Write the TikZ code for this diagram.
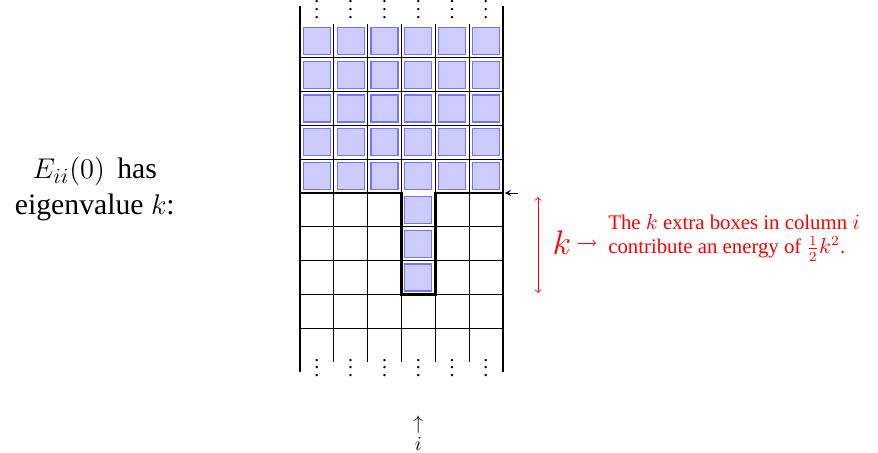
\documentclass[tikz,border=0pt]{standalone}
\usepackage{fontspec}
\setmainfont{Liberation Serif}
\usetikzlibrary{arrows, positioning}

\begin{document}
\begin{tikzpicture}[x=0.6cm, y=0.6cm]
    \tikzstyle{box} = [draw=blue!55, fill=blue!20, semithick]
    \tikzstyle{gridline} = [thin]
    \tikzstyle{wall} = [line width=1.3pt]
    \tikzstyle{rim} = [line width=1.5pt]
    \tikzstyle{note} = [text=red, align=left, inner sep=0pt, font=\fontsize{10.5}{12.3}\selectfont]
    \tikzstyle{arrow} = [->]

    \useasboundingbox (-8.876,-7.663) rectangle (17.10,5.71);

    % grid
    \foreach \x in {1,...,5}
        \draw [gridline] (\x,5) -- (\x,-5);
    \foreach \y in {4,3,2,1,-1,-2,-3,-4}
        \draw [gridline] (0,\y) -- (6,\y);
    \draw [wall] (0,5.53) -- (0,-5.3);
    \draw [wall] (6,5.53) -- (6,-5.3);

    % filled boxes
    \foreach \x in {0,...,5}
        \foreach \y in {0,...,4}
            \draw [box] (\x+0.1,\y+0.1) rectangle (\x+0.9,\y+0.9);
    \foreach \y in {-1,-2,-3}
        \draw [box] (3.1,\y+0.1) rectangle (3.9,\y+0.9);

    \draw [rim] (0,0) -- (3,0) -- (3,-3) -- (4,-3) -- (4,0) -- (6,0);

    % dots
    \foreach \x in {0,...,5} {
        \node (top\x) [anchor=base, inner sep=0pt] at (\x+0.5,5.17) {\smash{$\vdots$}};
        \node (bot\x) [anchor=base, inner sep=0pt] at (\x+0.5,-5.44) {\smash{$\vdots$}};
    }

    \node (lbl) at (-6.07,0.12) [align=center, font=\fontsize{15}{18}\selectfont] {$E_{ii}(0)$\ \,has\\eigenvalue $k$:};
    \node (col) at (3.5,-7.1) {\shortstack{$\uparrow$\\[-1pt]$i$}};

    \coordinate (zs) at (6.45,0);
    \coordinate (ze) at (6.06,0);
    \draw [->, >=stealth] (zs) -- (ze);

    \coordinate (kt) at (7.04,-0.12);
    \coordinate (kb) at (7.04,-2.96);
    \draw [<->, red] (kt) -- (kb);

    \node (kk) at (7.75,-1.48) [text=red, font=\LARGE] {$k$};
    \node (expl) [note, anchor=west] at (9.11,-1.32) {The $k$ extra boxes in column $i$\\contribute an energy of $\frac{1}{2}k^2$.};
    \draw [arrow, red, shorten >=6pt] (kk.east) -- (kk.east -| expl.west);
\end{tikzpicture}
\end{document}
